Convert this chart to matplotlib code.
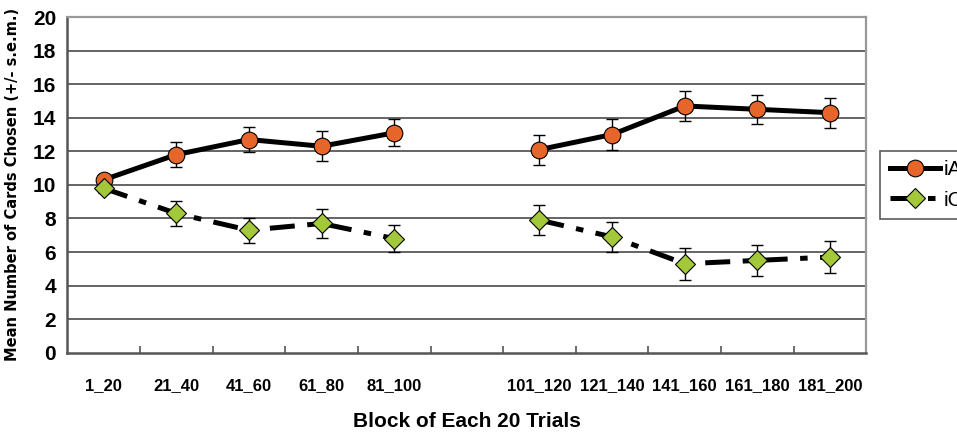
import numpy as np
import matplotlib.pyplot as plt

plt.rcParams['font.family'] = ['Liberation Sans Narrow', 'Liberation Sans', 'DejaVu Sans']

# blocks of 20 trials; the empty slot separates the two sessions
blocks = ['1_20', '21_40', '41_60', '61_80', '81_100', '',
          '101_120', '121_140', '141_160', '161_180', '181_200']

ia_mean = [10.3, 11.8, 12.7, 12.3, 13.1, np.nan, 12.1, 13.0, 14.7, 14.5, 14.3]
ia_sem = [0.3, 0.75, 0.76, 0.9, 0.8, np.nan, 0.9, 0.95, 0.9, 0.88, 0.9]

ic_mean = [9.8, 8.3, 7.3, 7.7, 6.8, np.nan, 7.9, 6.9, 5.3, 5.5, 5.7]
ic_sem = [0.3, 0.75, 0.75, 0.88, 0.8, np.nan, 0.9, 0.9, 0.95, 0.9, 0.95]

x = np.arange(len(blocks))

fig = plt.figure(figsize=(9.57, 4.36), dpi=100)
ax = fig.add_axes([0.0703, 0.191, 0.835, 0.770])

for y in range(2, 20, 2):
    ax.axhline(y, color='#3a3a3a', lw=1.1, zorder=0)

# error bars first so the markers sit on top
ax.errorbar(x, ia_mean, yerr=ia_sem, fmt='none', ecolor='black',
            elinewidth=1.0, capsize=4, capthick=1.0, zorder=2)
ax.errorbar(x, ic_mean, yerr=ic_sem, fmt='none', ecolor='black',
            elinewidth=1.0, capsize=4, capthick=1.0, zorder=2)

ax.plot(x, ia_mean, color='black', lw=3.6, marker='o', ms=12,
        mfc='#E5652A', mec='black', mew=0.8, label='iA', zorder=3)
ic_line, = ax.plot(x, ic_mean, color='black', lw=3.6, marker='D', ms=10,
                   mfc='#A3C93A', mec='black', mew=0.8, label='iC', zorder=3)
ic_line.set_dashes([5, 2.5, 1.5, 2.5])

ax.set_xlim(-0.5, len(blocks) - 0.5)
ax.set_ylim(0, 20)
ax.set_yticks(range(0, 21, 2))
ax.set_xticks(x)
ax.set_xticklabels(blocks, fontsize=12, fontweight='bold')
ax.tick_params(axis='x', length=0, pad=18)
ax.set_xticks(np.arange(0.5, len(blocks) - 1, 1), minor=True)
ax.tick_params(axis='x', which='minor', direction='in', length=5, width=1.2, color='#555555')
ax.tick_params(axis='y', length=0, pad=8, labelsize=15)
for lab in ax.get_yticklabels():
    lab.set_fontweight('bold')

for side in ['left', 'bottom']:
    ax.spines[side].set_color('#555555')
    ax.spines[side].set_linewidth(1.8)
for side in ['top', 'right']:
    ax.spines[side].set_color('#999999')
    ax.spines[side].set_linewidth(1.6)

ax.set_ylabel('Mean Number of Cards Chosen (+/- s.e.m.)',
              fontsize=10.5, fontweight='bold', family='DejaVu Sans',
              labelpad=9)
ax.set_xlabel('Block of Each 20 Trials', fontsize=15, fontweight='bold', labelpad=14)

leg = fig.legend(loc='upper left', bbox_to_anchor=(0.920, 0.654), fontsize=15,
                 frameon=True, fancybox=False, edgecolor='#333333', borderaxespad=0,
                 handlelength=2.4, borderpad=0.45, labelspacing=0.55, handletextpad=0.2)
leg.get_frame().set_linewidth(1.2)

fig.savefig('out.png', dpi=100)
